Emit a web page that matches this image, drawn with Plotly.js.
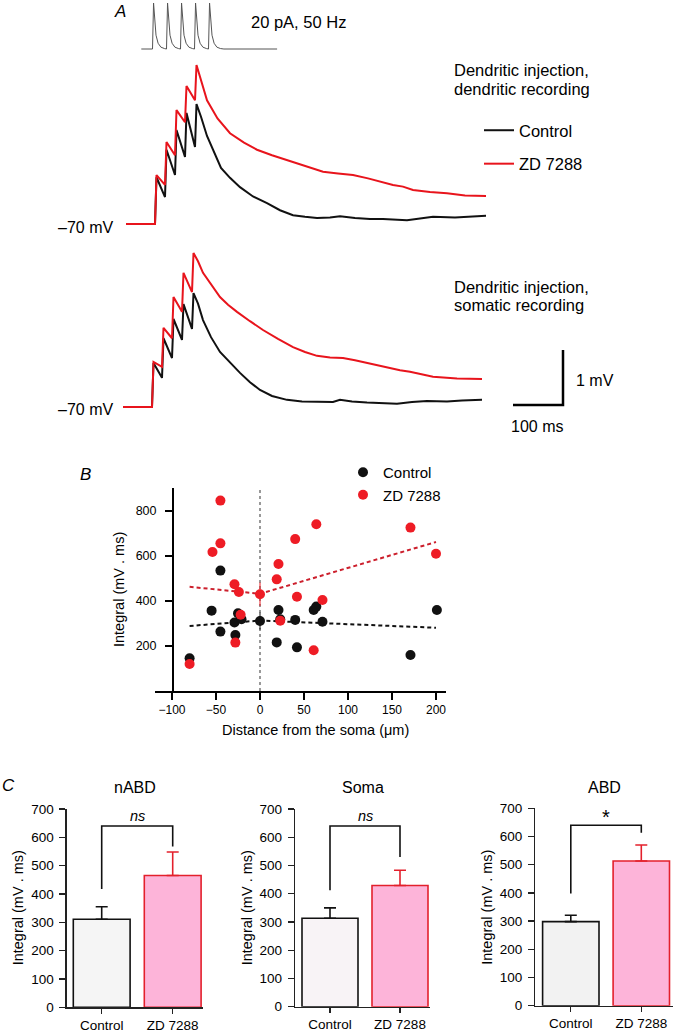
<!DOCTYPE html>
<html>
<head>
<meta charset="utf-8">
<script src="https://cdn.plot.ly/plotly-3.0.1.min.js"></script>
<style>
  html, body { margin: 0; padding: 0; background: #fff; }
  #fig { width: 673px; height: 1033px; }
</style>
</head>
<body>
<div id="fig"></div>
<script>
// ---- panel A: stimulus (ms, pA) ----
var stimT = [-16, 0, 1.5, 3, 5, 8, 12, 17, 20, 21.5, 23, 25, 28, 32, 37, 40, 41.5, 43, 45, 48, 52, 57,
             60, 61.5, 63, 65, 68, 72, 77, 80, 81.5, 83, 85, 88, 92, 97, 102, 178];
var stimI = [0, 0, 20, 12, 6, 2.5, 0.8, 0.2, 0, 20, 12, 6, 2.5, 0.8, 0.2, 0, 20, 12, 6, 2.5, 0.8, 0.2,
             0, 20, 12, 6, 2.5, 0.8, 0.2, 0, 20, 12, 6, 2.5, 0.8, 0.2, 0, 0];

// ---- panel A: dendritic recording (ms, mV) ----
var dendCtrlT = [-58, 0, 3, 20, 23, 40, 43, 60, 63, 80, 83, 92, 104, 118, 132, 150, 170, 196, 224, 250,
                 276, 300, 324, 350, 370, 400, 430, 456, 480, 504, 530, 556, 600, 630, 662];
var dendCtrlV = [-70, -70, -69.15, -69.51, -68.65, -69.11, -68.29, -68.78, -67.98, -68.6, -67.82, -68.05, -68.4, -68.7, -68.98, -69.16,
                 -69.33, -69.5, -69.62, -69.75, -69.84, -69.87, -69.89, -69.88, -69.86, -69.89, -69.91, -69.91, -69.92, -69.93,
                 -69.9, -69.87, -69.88, -69.86, -69.85];
var dendZdT = [-58, 0, 3, 20, 23, 40, 43, 60, 63, 80, 83, 92, 104, 125, 150, 178, 204, 234, 264, 300,
               336, 366, 396, 426, 456, 476, 496, 516, 550, 584, 620, 662];
var dendZdV = [-70, -70, -69.11, -69.29, -68.51, -68.75, -67.93, -68.15, -67.49, -67.75, -67.11, -67.38, -67.75, -68.08, -68.35, -68.52,
               -68.65, -68.75, -68.84, -68.95, -69.05, -69.08, -69.11, -69.17, -69.24, -69.29, -69.32, -69.38, -69.42, -69.44, -69.48, -69.49];

// ---- panel A: somatic recording (ms, mV) ----
var somaCtrlT = [-58, 0, 3, 20, 23, 40, 43, 60, 63, 80, 83, 92, 102, 118, 136, 156, 176, 196, 216, 240,
                 270, 300, 330, 362, 376, 400, 430, 462, 490, 520, 550, 590, 620, 660];
var somaCtrlV = [-70, -70, -69.2, -69.47, -68.75, -69.11, -68.4, -68.78, -68.13, -68.58, -67.93, -68.12, -68.42, -68.73, -69, -69.2,
                 -69.38, -69.55, -69.69, -69.8, -69.87, -69.9, -69.91, -69.91, -69.87, -69.9, -69.92, -69.93, -69.94, -69.91,
                 -69.89, -69.9, -69.88, -69.87];
var somaZdT = [-58, 0, 3, 20, 23, 40, 43, 60, 63, 80, 83, 92, 102, 120, 136, 152, 170, 196, 222, 252,
               282, 306, 330, 356, 382, 406, 430, 453, 476, 496, 516, 540, 562, 610, 660];
var somaZdV = [-70, -70, -69.18, -69.27, -68.56, -68.75, -68, -68.27, -67.56, -67.91, -67.2, -67.35, -67.56, -67.8, -68, -68.14,
               -68.27, -68.44, -68.6, -68.76, -68.91, -69, -69.07, -69.1, -69.11, -69.15, -69.2, -69.25, -69.29, -69.33,
               -69.36, -69.4, -69.45, -69.48, -69.49];

var scaleMs = 100, scaleMv = 1;

// ---- panel B: integral vs distance ----
var ctrlX = [-80, -55, -45, -45, -29, -28, -25, -21, 0, 19, 21, 23, 40, 42, 61, 64, 71, 171, 201];
var ctrlY = [145, 357, 535, 264, 304, 249, 345, 319, 311, 216, 360, 319, 316, 194, 360, 375, 308, 160, 360];
var ctrlErr = [0, 0, 0, 0, 0, 0, 0, 0, 38, 0, 0, 0, 0, 0, 0, 0, 0, 0, 0];
var zdX = [-80, -54, -45, -45, -29, -28, -24, -22, 0, 19, 21, 23, 40, 42, 61, 64, 71, 171, 200];
var zdY = [120, 618, 846, 656, 474, 215, 440, 339, 430, 496, 564, 312, 675, 419, 181, 741, 404, 726, 610];
var zdErr = [0, 0, 0, 0, 0, 0, 0, 0, 52, 0, 0, 0, 0, 0, 0, 0, 0, 0, 0];
var fitX = [-80, 0, 200];
var ctrlFit = [289, 313, 281];
var zdFit = [463, 432, 662];

// ---- panel C: bar summaries ----
var groups = ['nABD', 'Soma', 'ABD'];
var barLabels = ['Control', 'ZD 7288'];
var ctrlMean = [311, 313, 298];
var ctrlSem = [44, 37, 23];
var zdMean = [465, 429, 513];
var zdSem = [83, 54, 57];
var bracketTop = [640, 640, 640];
var bracketLeft = [418, 412, 398];
var bracketRight = [568, 530, 613];
var sigText = ['ns', 'ns', '*'];

var W = 673, H = 1033;
var FONT = 'Liberation Sans, Arial, Helvetica, sans-serif';
var RED = '#e8141c', BLACK = '#111111';
function px(x) { return x / W; }
function py(y) { return 1 - y / H; }

var data = [];
// stimulus
data.push({x: stimT, y: stimI, xaxis: 'x3', yaxis: 'y3', mode: 'lines', line: {color: '#555', width: 1}, showlegend: false, hoverinfo: 'skip'});
// dendritic recording
data.push({x: dendCtrlT, y: dendCtrlV, xaxis: 'x', yaxis: 'y', mode: 'lines', name: 'Control', legendgroup: 'a1',
  line: {color: BLACK, width: 2}, showlegend: true});
data.push({x: dendZdT, y: dendZdV, xaxis: 'x', yaxis: 'y', mode: 'lines', name: 'ZD 7288', legendgroup: 'a2',
  line: {color: RED, width: 2}, showlegend: true});
// somatic recording
data.push({x: somaCtrlT, y: somaCtrlV, xaxis: 'x2', yaxis: 'y2', mode: 'lines', line: {color: BLACK, width: 2}, showlegend: false});
data.push({x: somaZdT, y: somaZdV, xaxis: 'x2', yaxis: 'y2', mode: 'lines', line: {color: RED, width: 2}, showlegend: false});

// panel B
data.push({x: fitX, y: ctrlFit, xaxis: 'x4', yaxis: 'y4', mode: 'lines', line: {color: BLACK, width: 2, dash: '4px,3px'}, showlegend: false});
data.push({x: fitX, y: zdFit, xaxis: 'x4', yaxis: 'y4', mode: 'lines', line: {color: '#cc1f2c', width: 2, dash: '4px,3px'}, showlegend: false});
data.push({x: ctrlX, y: ctrlY, xaxis: 'x4', yaxis: 'y4', mode: 'markers', name: 'Control', legend: 'legend2', legendgroup: 'b1',
  marker: {color: BLACK, size: 10}, error_y: {type: 'data', array: ctrlErr, color: BLACK, thickness: 1, width: 0}});
data.push({x: zdX, y: zdY, xaxis: 'x4', yaxis: 'y4', mode: 'markers', name: 'ZD 7288', legend: 'legend2', legendgroup: 'b2',
  marker: {color: '#ee1c25', size: 10}, error_y: {type: 'data', array: zdErr, color: '#ee1c25', thickness: 1, width: 0}});

// panel C geometry (pixel positions of each small chart)
var cGeo = [
  {ax: 66.7, c0: 101.7, step: 71, right: 203, y0: 1007.3, yTop: 809},
  {ax: 295, c0: 330, step: 70, right: 430, y0: 1006.7, yTop: 809},
  {ax: 535.3, c0: 570.8, step: 70.5, right: 673, y0: 1005.7, yTop: 808.3}
];
var ctrlFill = ['#f5f5f5', '#f8f3f6', '#f2f2f2'];

var layout = {
  width: W, height: H,
  margin: {l: 0, r: 0, t: 0, b: 0},
  paper_bgcolor: '#fff', plot_bgcolor: 'rgba(0,0,0,0)',
  font: {family: FONT, color: '#000'},
  showlegend: true,
  legend: {x: px(479), y: py(113), xanchor: 'left', yanchor: 'top', font: {size: 16.5, family: FONT},
    bgcolor: 'rgba(0,0,0,0)', tracegroupgap: 9, itemwidth: 30},
  legend2: {x: px(343), y: py(456), xanchor: 'left', yanchor: 'top', font: {size: 15, family: FONT},
    bgcolor: 'rgba(0,0,0,0)', tracegroupgap: 0, itemwidth: 30},
  xaxis: {domain: [px(120), px(495)], range: [(120 - 155) * 2, (495 - 155) * 2], visible: false, anchor: 'y'},
  yaxis: {domain: [py(240), py(50)], range: [-70 - 16 / 55, -70 + 174 / 55], visible: false, anchor: 'x'},
  xaxis2: {domain: [px(118), px(575)], range: [(118 - 152) * 2, (575 - 152) * 2], visible: false, anchor: 'y2'},
  yaxis2: {domain: [py(425), py(235)], range: [-70 - 18 / 55, -70 + 172 / 55], visible: false, anchor: 'x2'},
  xaxis3: {domain: [px(138), px(280)], range: [(138 - 152.5) / 0.7, (280 - 152.5) / 0.7], visible: false, anchor: 'y3'},
  yaxis3: {domain: [py(56), py(0)], range: [-7 / 2.3, 49 / 2.3], visible: false, anchor: 'x3'},
  xaxis4: {domain: [px(155), px(446)], range: [-100 + (155 - 172) / 0.88, -100 + (446 - 172) / 0.88], anchor: 'y4',
    tickvals: [-100, -50, 0, 50, 100, 150, 200], ticks: 'outside', ticklen: 7, tickwidth: 1.3, tickcolor: '#000',
    showline: true, linewidth: 1.5, linecolor: '#000', showgrid: false, zeroline: false,
    tickfont: {size: 12, family: FONT}},
  yaxis4: {domain: [py(691), py(488)], range: [0, 902], anchor: 'free', position: px(172),
    tickvals: [200, 400, 600, 800], ticks: 'outside', ticklen: 7, tickwidth: 1.3, tickcolor: '#000',
    showline: true, linewidth: 1.5, linecolor: '#000', showgrid: false, zeroline: false, ticklabelstandoff: 6,
    tickfont: {size: 12.5, family: FONT}},
  shapes: [],
  annotations: []
};

// scale bar in somatic-trace units
var sbT0 = (513 - 152) * 2, sbV0 = -70 + 2 / 55;
layout.shapes.push({type: 'path', xref: 'x2', yref: 'y2',
  path: 'M' + sbT0 + ',' + sbV0 + ' L' + (sbT0 + scaleMs) + ',' + sbV0 + ' L' + (sbT0 + scaleMs) + ',' + (sbV0 + scaleMv),
  line: {color: '#000', width: 2.5}});

// vertical dashed line at soma
layout.shapes.push({type: 'line', xref: 'x4', yref: 'y4', x0: 0, x1: 0, y0: 0, y1: 902, layer: 'below',
  line: {color: '#555', width: 1.2, dash: '3px,3px'}});

function note(text, x, y, opt) {
  var a = {text: text, xref: 'paper', yref: 'paper', x: px(x), y: py(y), showarrow: false,
    xanchor: 'left', yanchor: 'middle', font: {size: 16.5, family: FONT, color: '#000'}};
  for (var k in opt) a[k] = opt[k];
  layout.annotations.push(a);
}

note('<i>A</i>', 112, 11, {font: {size: 17, family: FONT}});
note('20 pA, 50 Hz', 249, 22);
note('Dendritic injection,', 452, 70);
note('dendritic recording', 452, 89);
note('Dendritic injection,', 452, 287);
note('somatic recording', 452, 305);
note('–70 mV', 115, 228, {xanchor: 'right', font: {size: 16, family: FONT}});
note('–70 mV', 115, 410, {xanchor: 'right', font: {size: 16, family: FONT}});
note('1 mV', 574, 381, {font: {size: 16, family: FONT}});
note('100 ms', 537, 426, {xanchor: 'center', font: {size: 16, family: FONT}});
note('<i>B</i>', 78, 474, {font: {size: 17, family: FONT}});
note('Integral (mV . ms)', 119, 590, {xanchor: 'center', textangle: -90, font: {size: 14.5, family: FONT}});
note('Distance from the soma (μm)', 315, 730, {xanchor: 'center', font: {size: 14.5, family: FONT}});
note('<i>C</i>', 0, 785, {font: {size: 17, family: FONT}});

for (var i = 0; i < groups.length; i++) {
  var g = cGeo[i];
  var n = i + 5;
  var xa = 'x' + n, ya = 'y' + n;
  layout['xaxis' + n] = {domain: [px(g.ax), px(g.right)], range: [(g.ax - g.c0) / g.step, (g.right - g.c0) / g.step],
    anchor: ya, tickvals: [0, 1], ticktext: barLabels, ticks: 'outside', ticklen: 5, tickwidth: 1.3, tickcolor: '#222',
    showline: true, linewidth: 1.3, linecolor: '#222', showgrid: false, zeroline: false, tickfont: {size: 13.5, family: FONT}};
  layout['yaxis' + n] = {domain: [py(g.y0), py(g.yTop)], range: [0, 700], dtick: 100, anchor: xa,
    ticks: 'outside', ticklen: 6, tickwidth: 1.3, tickcolor: '#222', showline: true, linewidth: 1.3, linecolor: '#222',
    showgrid: false, zeroline: false, ticklabelstandoff: 3, tickfont: {size: 13.5, family: FONT}};

  data.push({type: 'bar', x: [0], y: [ctrlMean[i]], xaxis: xa, yaxis: ya, width: 0.8, showlegend: false,
    marker: {color: ctrlFill[i], line: {color: '#111', width: 1.6}},
    error_y: {type: 'data', symmetric: false, array: [ctrlSem[i]], arrayminus: [0], color: '#111', thickness: 1.6, width: 6}});
  data.push({type: 'bar', x: [1], y: [zdMean[i]], xaxis: xa, yaxis: ya, width: 0.8, showlegend: false,
    marker: {color: '#fdb4d9', line: {color: '#e3202c', width: 1.6}},
    error_y: {type: 'data', symmetric: false, array: [zdSem[i]], arrayminus: [0], color: '#e3202c', thickness: 1.6, width: 6}});

  layout.shapes.push({type: 'path', xref: xa, yref: ya,
    path: 'M0,' + bracketLeft[i] + ' L0,' + bracketTop[i] + ' L1,' + bracketTop[i] + ' L1,' + bracketRight[i],
    line: {color: '#111', width: 1.6}});
  layout.annotations.push({text: sigText[i] === 'ns' ? '<i>ns</i>' : sigText[i], xref: xa, yref: ya, x: 0.5,
    y: sigText[i] === 'ns' ? 676 : 668, showarrow: false, xanchor: 'center', yanchor: 'middle',
    font: {size: sigText[i] === 'ns' ? 14.5 : 20, family: FONT, color: '#000'}});
  layout.annotations.push({text: groups[i], xref: xa + ' domain', yref: 'paper', x: 0.5, y: py(787),
    showarrow: false, xanchor: 'center', yanchor: 'middle', font: {size: 16, family: FONT, color: '#000'}});
  layout.annotations.push({text: 'Integral (mV . ms)', xref: 'paper', yref: 'paper', x: px(g.ax - 48.5),
    y: py((g.y0 + g.yTop) / 2), showarrow: false, xanchor: 'center', yanchor: 'middle', textangle: -90,
    font: {size: 14.5, family: FONT, color: '#000'}});
}

Plotly.newPlot('fig', data, layout, {displayModeBar: false, staticPlot: true});
</script>
</body>
</html>
